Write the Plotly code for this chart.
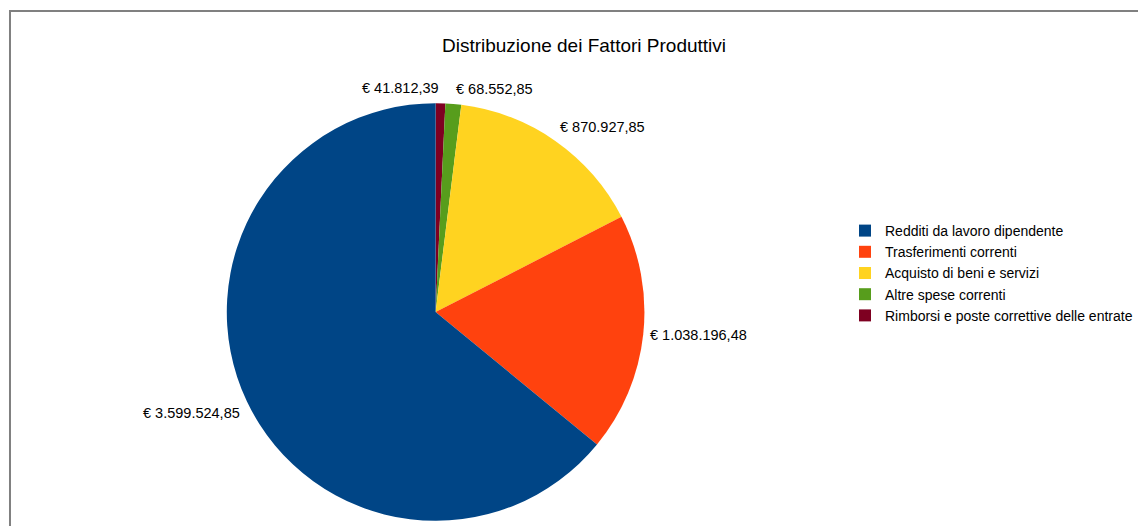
import math
import plotly.graph_objects as go

categories = [
    "Redditi da lavoro dipendente",
    "Trasferimenti correnti",
    "Acquisto di beni e servizi",
    "Altre spese correnti",
    "Rimborsi e poste correttive delle entrate",
]
values = [3599524.85, 1038196.48, 870927.85, 68552.85, 41812.39]
colors = ["#004586", "#ff420e", "#ffd320", "#579d1c", "#7e0021"]

W, H = 1138, 526
FONT = "Liberation Sans, Arial, sans-serif"
LABEL_SIZE = 14.5


def euro(v):
    s = f"{v:,.2f}"
    s = s.replace(",", "X").replace(".", ",").replace("X", ".")
    return "€ " + s


# slices are fed reversed and drawn clockwise, so that going counterclockwise
# from 12 o'clock they follow the category order
rev = slice(None, None, -1)
p_labels = categories[rev]
p_values = values[rev]
p_colors = colors[rev]

# pie geometry in pixels
cx, cy, r = 436, 312, 209

fig = go.Figure(
    go.Pie(
        labels=p_labels,
        values=p_values,
        textinfo="none",
        marker=dict(colors=p_colors, line=dict(width=0)),
        sort=False,
        direction="clockwise",
        rotation=0,
        hole=0,
        domain=dict(
            x=[(cx - r) / W, (cx + r) / W],
            y=[(H - cy - r) / H, (H - cy + r) / H],
        ),
        hoverinfo="label+value",
    )
)

# value labels just outside the rim, at each slice's mid angle
total = sum(p_values)
R = r + 5
line_h = LABEL_SIZE * 1.2
labels = []
acc = 0.0
for v in p_values:
    mid = (acc + v / 2) / total * 2 * math.pi  # clockwise from 12 o'clock
    acc += v
    s, c = math.sin(mid), math.cos(mid)
    labels.append(
        dict(
            text=euro(v),
            px=cx + R * s,
            py=cy - R * c,
            xanchor="left" if s >= 0 else "right",
            yanchor="middle" if abs(c) < 0.2 else ("bottom" if c > 0 else "top"),
        )
    )

# two neighbouring labels on the same side and row: push the first one across
for a, b in zip(labels, labels[1:]):
    if a["xanchor"] == b["xanchor"] and abs(a["py"] - b["py"]) < line_h:
        a["xanchor"] = "right" if a["xanchor"] == "left" else "left"

annotations = [
    dict(
        text=lab["text"],
        x=lab["px"] / W,
        y=1 - lab["py"] / H,
        xref="paper",
        yref="paper",
        xanchor=lab["xanchor"],
        yanchor=lab["yanchor"],
        showarrow=False,
        font=dict(family=FONT, size=LABEL_SIZE, color="#000000"),
    )
    for lab in labels
]

fig.update_layout(
    width=W,
    height=H,
    margin=dict(l=0, r=0, t=0, b=0),
    paper_bgcolor="#ffffff",
    plot_bgcolor="#ffffff",
    font=dict(family=FONT, size=14.5, color="#000000"),
    title=dict(
        text="Distribuzione dei Fattori Produttivi",
        x=584 / W,
        xanchor="center",
        y=1 - 45 / H,
        yanchor="middle",
        font=dict(size=19, color="#000000"),
    ),
    legend=dict(
        x=846 / W,
        xanchor="left",
        y=1 - 215 / H,
        yanchor="top",
        font=dict(size=14),
        bgcolor="rgba(0,0,0,0)",
        traceorder="reversed",
        itemclick=False,
    ),
    annotations=annotations,
    shapes=[
        dict(
            type="rect",
            xref="paper",
            yref="paper",
            x0=10 / W,
            x1=1.05,
            y0=-0.05,
            y1=1 - 11 / H,
            line=dict(color="#808080", width=2),
            fillcolor="rgba(0,0,0,0)",
            layer="below",
        )
    ],
)

fig.write_html("out.html")
